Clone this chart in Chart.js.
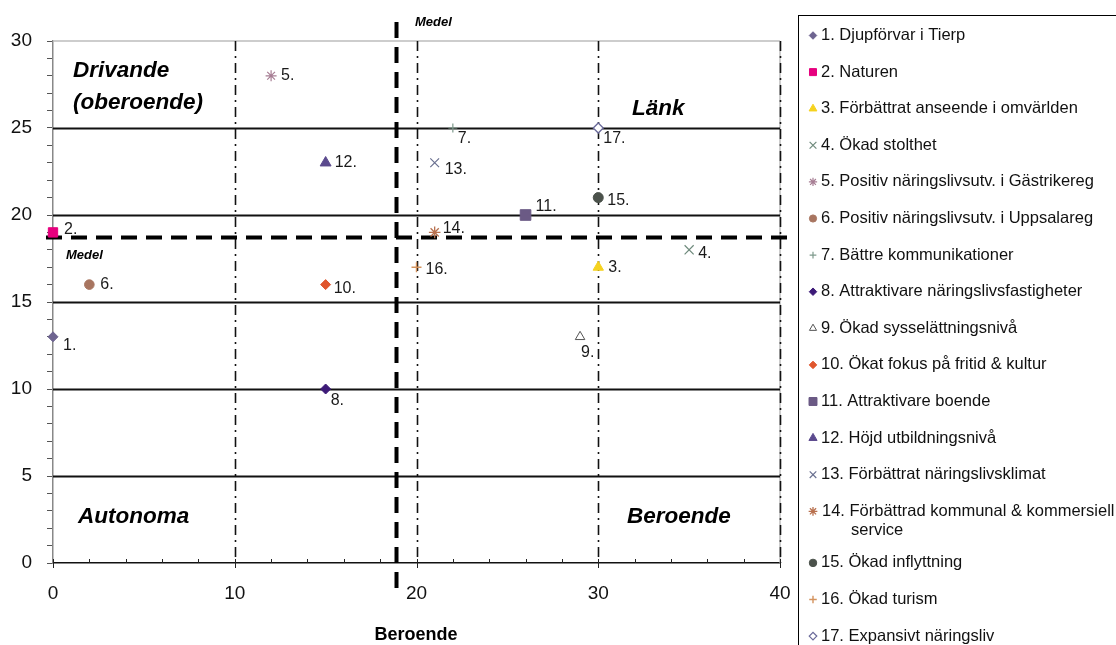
<!DOCTYPE html>
<html><head><meta charset="utf-8">
<script src="https://cdn.jsdelivr.net/npm/chart.js@4"></script>
<style>html,body{margin:0;padding:0;background:#fff}#wrap{width:1116px;height:645px;position:relative}</style>
</head><body><div id="wrap"><canvas id="c" width="1116" height="645"></canvas></div>
<script>
// ---- data ----
const seriesNames = [
  "1. Djupförvar i Tierp",
  "2. Naturen",
  "3. Förbättrat anseende i omvärlden",
  "4. Ökad stolthet",
  "5. Positiv näringslivsutv. i Gästrikereg",
  "6. Positiv näringslivsutv. i Uppsalareg",
  "7. Bättre kommunikationer",
  "8. Attraktivare näringslivsfastigheter",
  "9. Ökad sysselättningsnivå",
  "10. Ökat fokus på fritid & kultur",
  "11. Attraktivare boende",
  "12. Höjd utbildningsnivå",
  "13. Förbättrat näringslivsklimat",
  "14. Förbättrad kommunal & kommersiell service",
  "15. Ökad inflyttning",
  "16. Ökad turism",
  "17. Expansivt näringsliv"
];
const xValues = [0, 0, 30, 35, 12, 2, 22, 15, 29, 15, 26, 15, 21, 21, 30, 20, 30];
const yValues = [13, 19, 17, 18, 28, 16, 25, 10, 13, 16, 20, 23, 23, 19, 21, 17, 25];
const pointLabels = ["1.","2.","3.","4.","5.","6.","7.","8.","9.","10.","11.","12.","13.","14.","15.","16.","17."];
const medelX = 18.9;
const medelY = 18.7;
const xTickLabels = [0, 10, 20, 30, 40];
const yTickLabels = [0, 5, 10, 15, 20, 25, 30];
const xTitle = "Beroende";

// ---- marker styles (not data) ----
const markerStyles = [
  {s:'rectRot', r:5,   fill:'#6E6490', line:'#6E6490', w:1},
  {s:'rect',    r:6.6, fill:'#E6007E', line:'#E6007E', w:1},
  {s:'triangle',r:6,   fill:'#F5D21F', line:'#F5D21F', w:1},
  {s:'crossRot',r:6.4, fill:'#6E8A7C', line:'#6E8A7C', w:1.2},
  {s:'star',    r:5.5, fill:'#A77E94', line:'#A77E94', w:1.2},
  {s:'circle',  r:4.8, fill:'#A87560', line:'#A87560', w:1},
  {s:'cross',   r:4.5, fill:'#7E9A8C', line:'#7E9A8C', w:1.2},
  {s:'rectRot', r:5,   fill:'#3D1A78', line:'#3D1A78', w:1},
  {s:'triangle',r:5.5, fill:'#ffffff', line:'#555555', w:1},
  {s:'rectRot', r:5,   fill:'#E0562E', line:'#E0562E', w:1},
  {s:'rect',    r:7.5, fill:'#6B5A85', line:'#6B5A85', w:1},
  {s:'triangle',r:6.3, fill:'#5B4A8E', line:'#5B4A8E', w:1},
  {s:'crossRot',r:6.2, fill:'#6A7090', line:'#6A7090', w:1.2},
  {s:'star',    r:5.8, fill:'#B8704E', line:'#B8704E', w:1.3},
  {s:'circle',  r:5,   fill:'#4B524B', line:'#4B524B', w:1},
  {s:'cross',   r:5,   fill:'#D4935E', line:'#D4935E', w:1.4},
  {s:'rectRot', r:5,   fill:'#ffffff', line:'#6A6A9A', w:1.3}
];
const labelOffsets = [[10,9],[11,-3],[10,0],[9,4],[10,0],[11,0],[5,11],[5,12],[1,16],[8,4],[10,-8],[9,0],[10,7],[8,-4],[9,3],[9,2],[5,11]];

const FONT = '"Liberation Sans", Arial, sans-serif';

const datasets = seriesNames.map((n, i) => ({
  label: n,
  data: [{x: xValues[i], y: yValues[i]}],
  pointStyle: markerStyles[i].s,
  pointRadius: markerStyles[i].r,
  pointHoverRadius: markerStyles[i].r,
  backgroundColor: markerStyles[i].fill,
  borderColor: markerStyles[i].line,
  pointBorderWidth: markerStyles[i].w,
  showLine: false,
  clip: false
}));

const decor = {
  id: 'decor',
  beforeDatasetsDraw(chart) {
    const {ctx, chartArea: a, scales: {x, y}} = chart;
    ctx.save();
    ctx.strokeStyle = '#bdbdbd'; ctx.lineWidth = 1.5; ctx.setLineDash([]);
    ctx.beginPath(); ctx.moveTo(a.left, y.getPixelForValue(30)); ctx.lineTo(a.right, y.getPixelForValue(30)); ctx.stroke();
    ctx.beginPath(); ctx.moveTo(x.getPixelForValue(40), a.top); ctx.lineTo(x.getPixelForValue(40), a.bottom); ctx.stroke();
    ctx.strokeStyle = '#111'; ctx.lineWidth = 2;
    [5,10,15,20,25].forEach(v => {
      const py = Math.round(y.getPixelForValue(v)) + 0.5;
      ctx.beginPath(); ctx.moveTo(a.left, py); ctx.lineTo(a.right, py); ctx.stroke();
    });
    ctx.lineWidth = 1.6; ctx.setLineDash([10,5,2,5]);
    [10,20,30,40].forEach(v => {
      const px = Math.round(x.getPixelForValue(v)) + 0.5;
      ctx.beginPath(); ctx.moveTo(px, a.top); ctx.lineTo(px, a.bottom); ctx.stroke();
    });
    ctx.setLineDash([]);
    ctx.strokeStyle = '#222'; ctx.lineWidth = 1;
    for (let v = 0; v <= 40; v += 2) {
      const px = Math.round(x.getPixelForValue(v)) + 0.5;
      const major = v % 10 === 0;
      ctx.beginPath();
      ctx.moveTo(px, a.bottom - 4);
      ctx.lineTo(px, a.bottom + (major ? 5 : 0));
      ctx.stroke();
    }
    ctx.strokeStyle = '#000'; ctx.lineWidth = 4; ctx.setLineDash([16,9]);
    const my = y.getPixelForValue(medelY);
    ctx.beginPath(); ctx.moveTo(a.left - 7, my); ctx.lineTo(a.right + 12, my); ctx.stroke();
    const mx = x.getPixelForValue(medelX);
    ctx.beginPath(); ctx.moveTo(mx, a.top - 19); ctx.lineTo(mx, a.bottom + 34); ctx.stroke();
    ctx.restore();
  },
  afterDatasetsDraw(chart) {
    const {ctx} = chart;
    ctx.save();
    ctx.fillStyle = '#1a1a1a';
    ctx.font = '16px ' + FONT;
    ctx.textBaseline = 'middle'; ctx.textAlign = 'left';
    chart.data.datasets.forEach((d, i) => {
      const el = chart.getDatasetMeta(i).data[0];
      ctx.fillText(pointLabels[i], el.x + labelOffsets[i][0], el.y + labelOffsets[i][1]);
    });
    ctx.fillStyle = '#000';
    ctx.textBaseline = 'alphabetic';
    ctx.font = 'italic bold 22.5px ' + FONT;
    ctx.fillText('Drivande', 73, 77);
    ctx.fillText('(oberoende)', 73, 109);
    ctx.fillText('Länk', 632, 115);
    ctx.fillText('Autonoma', 78, 523);
    ctx.fillText('Beroende', 627, 523);
    ctx.font = 'italic bold 13px ' + FONT;
    ctx.fillText('Medel', 66, 259);
    ctx.fillText('Medel', 415, 26);
    ctx.font = 'bold 18px ' + FONT;
    ctx.textAlign = 'center';
    ctx.fillText(xTitle, 416, 640);
    // legend
    ctx.textAlign = 'left';
    ctx.strokeStyle = '#000'; ctx.lineWidth = 1; ctx.setLineDash([]);
    ctx.strokeRect(798.5, 15.5, 400, 700);
    ctx.font = '16.5px ' + FONT;
    chart.data.datasets.forEach((d, i) => {
      const ly = 35.5 + i * 36.6 + (i >= 14 ? 15 : 0);
      const ms = markerStyles[i];
      ctx.fillStyle = ms.fill; ctx.strokeStyle = ms.line; ctx.lineWidth = ms.w;
      Chart.helpers.drawPoint(ctx, {pointStyle: ms.s, rotation: 0, radius: ms.r * 0.75, borderWidth: ms.w}, 813, ly);
      ctx.fillStyle = '#111';
      ctx.textBaseline = 'middle';
      if (i === 13) {
        ctx.fillText('14. Förbättrad kommunal & kommersiell', 822, ly);
        ctx.fillText('service', 851, ly + 19);
      } else {
        ctx.fillText(seriesNames[i], 821, ly);
      }
    });
    ctx.restore();
  }
};

new Chart(document.getElementById('c'), {
  type: 'scatter',
  data: { datasets },
  options: {
    responsive: false,
    animation: false,
    devicePixelRatio: 1,
    layout: { padding: { left: 0, top: 41, right: 336, bottom: 0 } },
    plugins: { legend: { display: false }, tooltip: { enabled: false } },
    scales: {
      x: {
        type: 'linear', min: 0, max: 40,
        afterFit(s) { s.height = 82; },
        ticks: {
          stepSize: 2, autoSkip: false, maxRotation: 0, padding: 19,
          color: '#111', font: { size: 19, family: FONT },
          callback: v => xTickLabels.includes(v) ? String(v) : ''
        },
        grid: { drawOnChartArea: false, drawTicks: false },
        border: { color: '#111', width: 1.5 }
      },
      y: {
        type: 'linear', min: 0, max: 30,
        afterFit(s) { s.width = 53; },
        ticks: {
          stepSize: 1, autoSkip: false, padding: 15,
          color: '#111', font: { size: 19, family: FONT },
          callback: v => yTickLabels.includes(v) ? String(v) : ''
        },
        grid: { drawOnChartArea: false, drawTicks: true, tickLength: 6, color: '#555' },
        border: { color: '#888', width: 1.5 }
      }
    }
  },
  plugins: [decor]
});
</script>
</body></html>
